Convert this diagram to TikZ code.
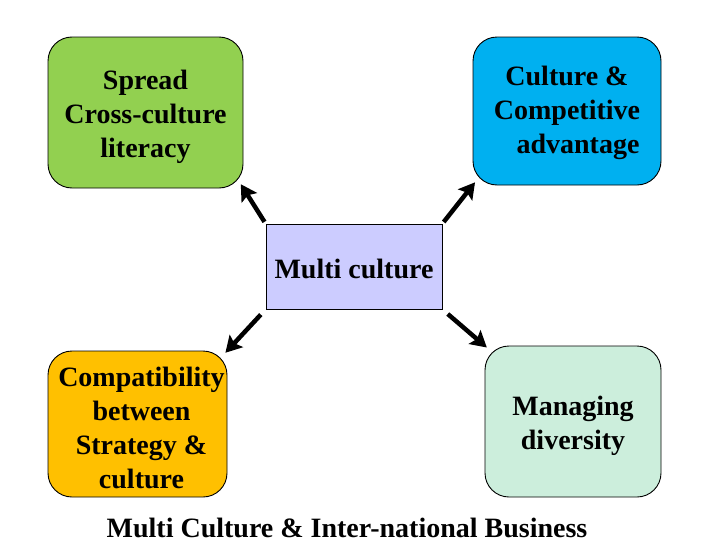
\documentclass[tikz,border=0pt]{standalone}
\usepackage{fontspec}
\setmainfont{Liberation Serif}
\usetikzlibrary{arrows.meta}
\definecolor{cgreen}{HTML}{92D050}
\definecolor{cblue}{HTML}{00B0F0}
\definecolor{cviolet}{HTML}{CCCCFF}
\definecolor{corange}{HTML}{FFC000}
\definecolor{cmint}{HTML}{CCEEDC}
\begin{document}
\begin{tikzpicture}[x=1pt,y=-1pt,
  box/.style={draw=black, line width=0.9pt, rounded corners=24pt, inner sep=0pt},
  txt/.style={align=center, font=\fontsize{28}{34}\selectfont\bfseries, inner sep=0pt},
  conn/.style={line width=4.5pt, -{Stealth[length=16pt,width=18pt,inset=3pt]}}]
\useasboundingbox (0,0) rectangle (728,546);
\node[box, fill=cgreen, minimum width=195pt, minimum height=151pt] (g) at (145.5,112.5) {};
\node[box, fill=cblue, minimum width=188pt, minimum height=148pt] (b) at (567,111) {};
\node[box, rounded corners=0pt, fill=cviolet, minimum width=176pt, minimum height=85pt] (c) at (354,266.5) {};
\node[box, fill=corange, minimum width=179pt, minimum height=146pt] (o) at (137.5,424) {};
\node[box, fill=cmint, minimum width=176pt, minimum height=151pt] (m) at (573,421.5) {};
\node[txt] (gt) at ([yshift=-4pt]g.center) {Spread\\Cross-culture\\literacy};
\node[txt] (bt) at ([yshift=-2pt]b.center) {Culture \&\\Competitive\\\hspace*{22pt}advantage};
\node[txt] (ct) at ([yshift=-2pt]c.center) {Multi culture};
\node[txt] (ot) at ([xshift=4pt,yshift=-4pt]o.center) {Compatibility\\between\\Strategy \&\\culture};
\node[txt] (mt) at ([yshift=-4pt]m.center) {Managing\\diversity};
\node[txt] (cap) at (347,528) {Multi Culture \& Inter-national Business};
\draw[conn, shorten <=2pt, shorten >=-5pt] (c.north west) -- (g.south east);
\draw[conn, shorten <=2pt, shorten >=-4pt] (c.north east) -- (b.south west);
\draw[conn, shorten <=7pt, shorten >=-3pt] (c.south west) -- (o.north east);
\draw[conn, shorten <=7pt, shorten >=-3pt] (c.south east) -- (m.north west);
\end{tikzpicture}
\end{document}
